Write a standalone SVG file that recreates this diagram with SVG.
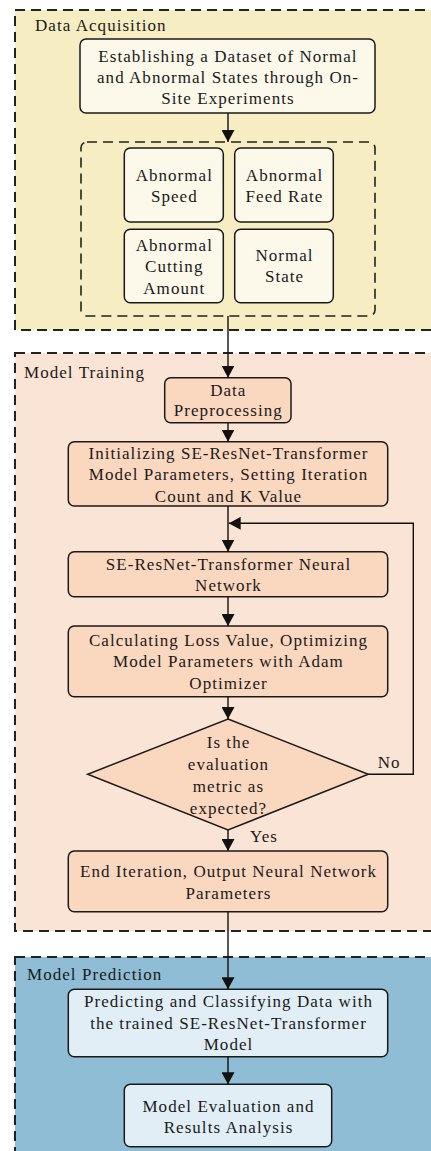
<svg xmlns="http://www.w3.org/2000/svg" width="431" height="1151" viewBox="0 0 431 1151">
  <style>
    .stage { stroke: #222; stroke-width: 2; stroke-dasharray: 10 6; }
    .box { stroke: #1a1a1a; stroke-width: 1.5; }
    .acq { fill: #FCF8EA; }
    .train { fill: #FAD7BF; }
    .pred { fill: #E1EEF5; }
    .group { fill: none; stroke: #222; stroke-width: 1.6; stroke-dasharray: 10 6; }
    text { font-family: "Liberation Serif", "Times New Roman", serif; font-size: 17px; letter-spacing: 1.05px; fill: #1a1a1a; }
    .c { text-anchor: middle; }
    .edge { fill: none; stroke: #111; stroke-width: 1.4; }
  </style>
  <defs>
    <marker id="arrow" markerUnits="userSpaceOnUse" markerWidth="12" markerHeight="13" viewBox="0 0 12 13" refX="12" refY="6.5" orient="auto">
      <path d="M0,0 L12,6.5 L0,13 z" fill="#111"/>
    </marker>
  </defs>

  <!-- stage containers -->
  <g id="stage-acquisition">
    <rect class="stage" x="15" y="10" width="440" height="320" fill="#F6EDC3"/>
    <text x="35" y="31">Data Acquisition</text>
  </g>
  <g id="stage-training">
    <rect class="stage" x="15" y="353" width="440" height="578" fill="#FAE4D5"/>
    <text x="24" y="378">Model Training</text>
  </g>
  <g id="stage-prediction">
    <rect class="stage" x="15" y="957" width="440" height="220" fill="#8FBDD6"/>
    <text x="27" y="980">Model Prediction</text>
  </g>

  <!-- data acquisition nodes -->
  <g id="dataset">
    <rect class="box acq" x="80" y="39" width="295" height="74" rx="6"/>
    <text class="c" x="228" y="62">Establishing a Dataset of Normal</text>
    <text class="c" x="228" y="83">and Abnormal States through On-</text>
    <text class="c" x="228" y="104">Site Experiments</text>
  </g>
  <g id="states">
    <rect class="group" x="81" y="142" width="294" height="174" rx="6"/>
  </g>
  <g id="abnormal-speed">
    <rect class="box acq" x="124.3" y="148" width="99" height="74" rx="6"/>
    <text class="c" x="174.3" y="181">Abnormal</text>
    <text class="c" x="174.3" y="202">Speed</text>
  </g>
  <g id="abnormal-feed">
    <rect class="box acq" x="234.7" y="148" width="98.6" height="74" rx="6"/>
    <text class="c" x="284.5" y="181">Abnormal</text>
    <text class="c" x="284.5" y="202">Feed Rate</text>
  </g>
  <g id="abnormal-cutting">
    <rect class="box acq" x="124.3" y="229.3" width="99" height="73.4" rx="6"/>
    <text class="c" x="174.3" y="251">Abnormal</text>
    <text class="c" x="174.3" y="272">Cutting</text>
    <text class="c" x="174.3" y="293.5">Amount</text>
  </g>
  <g id="normal-state">
    <rect class="box acq" x="234.7" y="229.3" width="98.6" height="73.4" rx="6"/>
    <text class="c" x="284.5" y="261">Normal</text>
    <text class="c" x="284.5" y="282">State</text>
  </g>

  <!-- model training nodes -->
  <g id="preprocessing">
    <rect class="box train" x="164.7" y="377.7" width="126.3" height="45" rx="6"/>
    <text class="c" x="228.3" y="395.5">Data</text>
    <text class="c" x="228.3" y="416">Preprocessing</text>
  </g>
  <g id="init">
    <rect class="box train" x="68.3" y="441.7" width="319.4" height="64.3" rx="6"/>
    <text class="c" x="228.5" y="458.5">Initializing SE-ResNet-Transformer</text>
    <text class="c" x="228.5" y="480">Model Parameters, Setting Iteration</text>
    <text class="c" x="228.5" y="501.5">Count and K Value</text>
  </g>
  <g id="network">
    <rect class="box train" x="68.3" y="551.7" width="319.4" height="45" rx="6"/>
    <text class="c" x="228.5" y="569.5">SE-ResNet-Transformer Neural</text>
    <text class="c" x="228.5" y="591">Network</text>
  </g>
  <g id="loss">
    <rect class="box train" x="68.3" y="626" width="319.4" height="70.7" rx="6"/>
    <text class="c" x="228.5" y="645.5">Calculating Loss Value, Optimizing</text>
    <text class="c" x="228.5" y="667">Model Parameters with Adam</text>
    <text class="c" x="228.5" y="688.5">Optimizer</text>
  </g>
  <g id="check">
    <polygon class="box train" points="228,719 368.3,774.3 228,830 87.7,774.3"/>
    <text class="c" x="228.5" y="747.5">Is the</text>
    <text class="c" x="228.5" y="769.5">evaluation</text>
    <text class="c" x="228.5" y="792">metric as</text>
    <text class="c" x="228.5" y="814">expected?</text>
  </g>
  <g id="end-iteration">
    <rect class="box train" x="68.3" y="851" width="319.4" height="60.7" rx="6"/>
    <text class="c" x="228.5" y="877">End Iteration, Output Neural Network</text>
    <text class="c" x="228.5" y="898.5">Parameters</text>
  </g>

  <!-- model prediction nodes -->
  <g id="predict">
    <rect class="box pred" x="68.3" y="989.3" width="319.4" height="67.4" rx="6"/>
    <text class="c" x="228.5" y="1007">Predicting and Classifying Data with</text>
    <text class="c" x="228.5" y="1028.5">the trained SE-ResNet-Transformer</text>
    <text class="c" x="228.5" y="1050">Model</text>
  </g>
  <g id="evaluate">
    <rect class="box pred" x="124.3" y="1084.3" width="207.4" height="62.4" rx="6"/>
    <text class="c" x="228.5" y="1112">Model Evaluation and</text>
    <text class="c" x="228.5" y="1133">Results Analysis</text>
  </g>

  <!-- connectors -->
  <g id="connectors">
    <line class="edge" x1="228" y1="113" x2="228" y2="142" marker-end="url(#arrow)"/>
    <line class="edge" x1="228" y1="316" x2="228" y2="377.7" marker-end="url(#arrow)"/>
    <line class="edge" x1="228" y1="422.7" x2="228" y2="441.7" marker-end="url(#arrow)"/>
    <line class="edge" x1="228" y1="506" x2="228" y2="551.7" marker-end="url(#arrow)"/>
    <line class="edge" x1="228" y1="596.7" x2="228" y2="626" marker-end="url(#arrow)"/>
    <line class="edge" x1="228" y1="696.7" x2="228" y2="719" marker-end="url(#arrow)"/>
    <line class="edge" x1="228" y1="830" x2="228" y2="851" marker-end="url(#arrow)"/>
    <line class="edge" x1="228" y1="911.7" x2="228" y2="989.3" marker-end="url(#arrow)"/>
    <line class="edge" x1="228" y1="1056.7" x2="228" y2="1084.3" marker-end="url(#arrow)"/>
    <polyline class="edge" points="368.3,774.3 413.3,774.3 413.3,523.3 228.7,523.3" marker-end="url(#arrow)"/>
    <text x="377.7" y="767.5">No</text>
    <text x="250" y="842">Yes</text>
  </g>
</svg>
